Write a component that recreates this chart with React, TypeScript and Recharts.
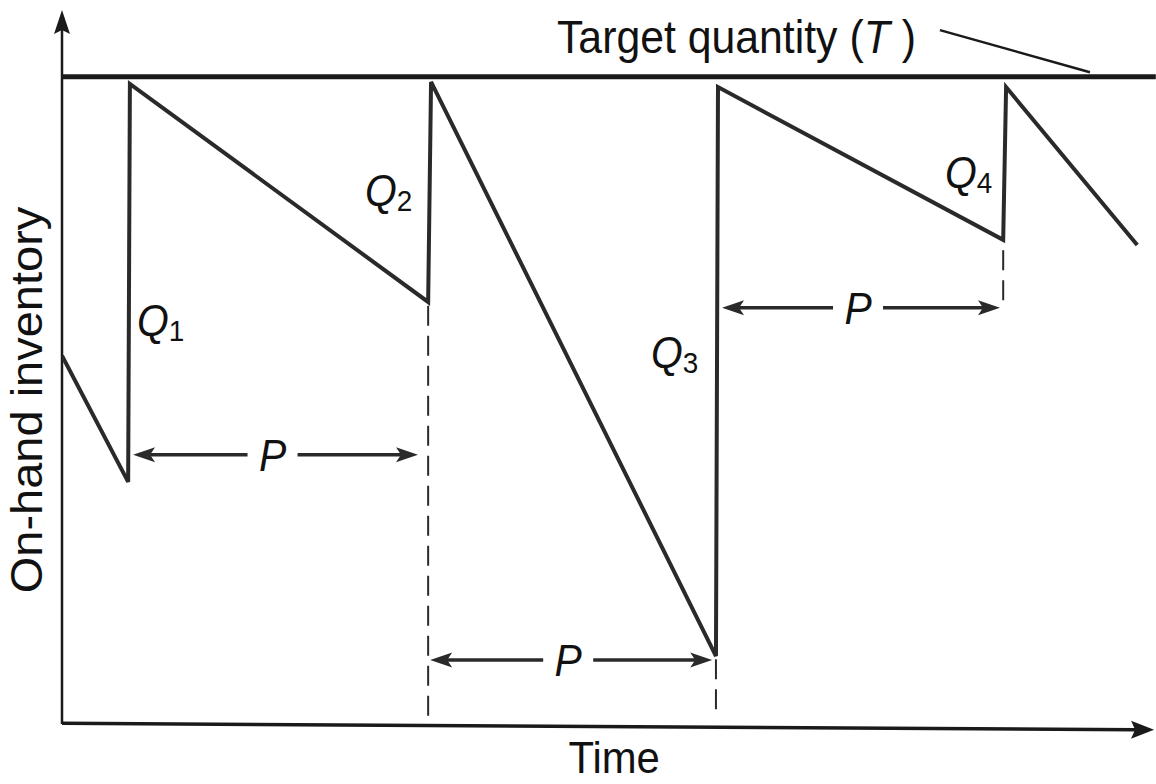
import React from "react";
import {
  ComposedChart,
  Line,
  XAxis,
  YAxis,
  ReferenceLine,
  ReferenceDot,
} from "recharts";

// target level the stock is topped back up to
const TARGET = 100;

// on-hand inventory: falls with demand, jumps back up at each review
const times = [0, 2.28, 2.34, 12.62, 12.72, 22.54, 22.61, 32.44, 32.54, 37.06];
const levels = [56.9, 37.4, 98.9, 65.2, 99.2, 10.5, 98.4, 74.8, 98.4, 74.0];

// review period arrows (P)
const periodStart = [2.45, 12.69, 22.75];
const periodEnd = [12.27, 22.41, 32.33];
const periodLevel = [41.6, 9.9, 64.3];

// dashed drop lines under the review points
const dropTimes = [12.62, 22.54, 32.44];
const dropTop = [64.6, 10.0, 73.2];
const dropBottom = [1.1, 1.1, 64.3];

// order quantity labels
const orderNames = ["1", "2", "3", "4"];
const orderLabelT = [2.585, 10.44, 20.3, 30.43];
const orderLabelInv = [59.9, 80.0, 55.0, 82.8];

const data = times.map((t, i) => ({ t, inv: levels[i] }));

const INK = "#2a2a2a";
const FONT = "'Liberation Sans', Arial, Helvetica, sans-serif";
const SQUEEZE = 0.93;

const axisArrow = (width: number, head: number, half: number) => (props: any) => {
  const { x1, y1, x2, y2 } = props;
  const len = Math.hypot(x2 - x1, y2 - y1);
  const ux = (x2 - x1) / len;
  const uy = (y2 - y1) / len;
  const bx = x2 - ux * head;
  const by = y2 - uy * head;
  return (
    <g>
      <line
        x1={x1}
        y1={y1}
        x2={x2 - ux * (head - 4)}
        y2={y2 - uy * (head - 4)}
        stroke="#1a1a1a"
        strokeWidth={width}
      />
      <polygon
        points={`${x2},${y2} ${bx - uy * half},${by + ux * half} ${
          x2 - ux * (head - 4)
        },${y2 - uy * (head - 4)} ${bx + uy * half},${by - ux * half}`}
        fill="#1a1a1a"
      />
    </g>
  );
};

const periodShape = (props: any) => {
  const { x1, y1, x2 } = props;
  const head = 22;
  const half = 7.5;
  const mid = (x1 + x2) / 2 - 3;
  return (
    <g>
      <line x1={x1 + 10} y1={y1} x2={x2 - 10} y2={y1} stroke={INK} strokeWidth={3.5} />
      <polygon
        points={`${x1},${y1} ${x1 + head},${y1 - half} ${x1 + head - 5},${y1} ${x1 + head},${y1 + half}`}
        fill={INK}
      />
      <polygon
        points={`${x2},${y1} ${x2 - head},${y1 - half} ${x2 - head + 5},${y1} ${x2 - head},${y1 + half}`}
        fill={INK}
      />
      <rect x={mid - 25} y={y1 - 5} width={50} height={10} fill="#fff" />
      <text
        transform={`translate(${mid},${y1 + 16}) scale(${SQUEEZE},1)`}
        textAnchor="middle"
        fontFamily={FONT}
        fontSize={44}
        fontStyle="italic"
        fill="#111"
      >
        P
      </text>
    </g>
  );
};

const orderLabel = (n: string) => (props: any) => (
  <text
    transform={`translate(${props.cx},${props.cy}) scale(${SQUEEZE},1)`}
    fontFamily={FONT}
    fontSize={44}
    fill="#111"
  >
    <tspan fontStyle="italic">Q</tspan>
    <tspan fontSize={30} dy={5}>
      {n}
    </tspan>
  </text>
);

const targetText = (props: any) => (
  <text
    transform={`translate(${props.cx},${props.cy}) scale(${SQUEEZE},1)`}
    fontFamily={FONT}
    fontSize={46}
    fill="#111"
  >
    Target quantity (<tspan fontStyle="italic">T</tspan> )
  </text>
);

const timeText = (props: any) => (
  <text
    transform={`translate(${props.cx},${props.cy}) scale(${SQUEEZE},1)`}
    textAnchor="middle"
    fontFamily={FONT}
    fontSize={45}
    fill="#111"
  >
    Time
  </text>
);

const inventoryText = (props: any) => (
  <text
    transform={`translate(${props.cx},${props.cy}) scale(${SQUEEZE},1) rotate(-90)`}
    textAnchor="middle"
    dominantBaseline="central"
    fontFamily={FONT}
    fontSize={47}
    fill="#111"
  >
    On-hand inventory
  </text>
);

export default function App() {
  return (
    <div style={{ position: "absolute", left: 0, top: 0, background: "#fff" }}>
      <ComposedChart
        width={1156}
        height={784}
        data={data}
        margin={{ top: 12, right: 6, bottom: 60, left: 62 }}
      >
        <XAxis type="number" dataKey="t" domain={[0, 37.5]} hide allowDataOverflow />
        <YAxis type="number" domain={[0, 110]} hide allowDataOverflow />

        {/* axes with arrowheads */}
        <ReferenceLine
          segment={[{ x: 0, y: 0 }, { x: 0, y: 110.3 }]}
          ifOverflow="visible"
          shape={axisArrow(2.5, 24, 8)}
        />
        <ReferenceLine
          segment={[{ x: 0, y: 0.1 }, { x: 37.64, y: -0.9 }]}
          ifOverflow="visible"
          shape={axisArrow(3.5, 23, 9)}
        />

        {/* target level and its leader line */}
        <ReferenceLine
          segment={[{ x: 0, y: TARGET }, { x: 37.7, y: TARGET }]}
          ifOverflow="visible"
          stroke="#1a1a1a"
          strokeWidth={5}
        />
        <ReferenceLine
          segment={[{ x: 30.26, y: 107.2 }, { x: 35.43, y: 100.7 }]}
          ifOverflow="visible"
          stroke="#1a1a1a"
          strokeWidth={2.5}
        />

        {dropTimes.map((t, i) => (
          <ReferenceLine
            key={`d${i}`}
            segment={[{ x: t, y: dropTop[i] }, { x: t, y: dropBottom[i] }]}
            ifOverflow="visible"
            stroke={INK}
            strokeWidth={2}
            strokeDasharray="20 10"
          />
        ))}

        {periodStart.map((s, i) => (
          <ReferenceLine
            key={`p${i}`}
            segment={[{ x: s, y: periodLevel[i] }, { x: periodEnd[i], y: periodLevel[i] }]}
            ifOverflow="visible"
            shape={periodShape}
          />
        ))}

        <Line
          type="linear"
          dataKey="inv"
          stroke={INK}
          strokeWidth={4}
          strokeLinejoin="miter"
          dot={false}
          activeDot={false}
          isAnimationActive={false}
        />

        {orderNames.map((n, i) => (
          <ReferenceDot
            key={`q${i}`}
            x={orderLabelT[i]}
            y={orderLabelInv[i]}
            r={0}
            ifOverflow="visible"
            shape={orderLabel(n)}
          />
        ))}

        <ReferenceDot x={17.06} y={103.7} r={0} ifOverflow="visible" shape={targetText} />
        <ReferenceDot x={19.03} y={-7.6} r={0} ifOverflow="visible" shape={timeText} />
        <ReferenceDot x={-1.206} y={50.06} r={0} ifOverflow="visible" shape={inventoryText} />
      </ComposedChart>
    </div>
  );
}
